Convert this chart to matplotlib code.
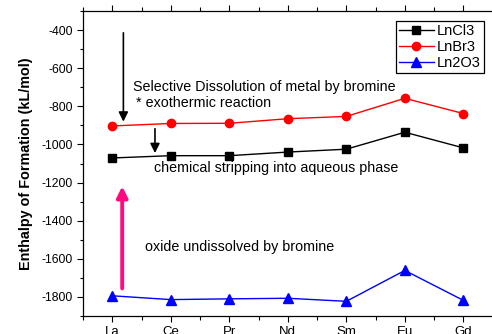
import matplotlib
matplotlib.use('Agg')
from matplotlib import pyplot as plt
from matplotlib.ticker import MultipleLocator
import numpy as np

plt.rcParams['font.family'] = ['Liberation Sans', 'DejaVu Sans']
plt.rcParams['axes.unicode_minus'] = False

elements = ['La', 'Ce', 'Pr', 'Nd', 'Sm', 'Eu', 'Gd']
lncl3 = [-1071, -1059, -1059, -1040, -1025, -936, -1018]
lnbr3 = [-903, -890, -889, -865, -853, -758, -838]
ln2o3 = [-1794, -1814, -1810, -1807, -1823, -1661, -1818]

x = np.arange(1, len(elements) + 1)

fig = plt.figure(figsize=(4.92, 3.34), dpi=100)
ax = fig.add_axes([83/492, 18/334, 409.6/492, 305/334])

ax.plot(x, lncl3, color='black', linewidth=1, marker='s', markersize=5.5, label='LnCl3')
ax.plot(x, lnbr3, color='red', linewidth=1, marker='o', markersize=6, label='LnBr3')
ax.plot(x, ln2o3, color='blue', linewidth=1, marker='^', markersize=6.5, label='Ln2O3')

ax.set_xlim(0.5, 7.5)
ax.set_ylim(-1900, -300)
ax.set_xticks(x)
ax.set_xticklabels(elements, fontsize=9.5)
ax.xaxis.set_minor_locator(MultipleLocator(0.5))
ax.yaxis.set_major_locator(MultipleLocator(200))
ax.yaxis.set_minor_locator(MultipleLocator(100))
ax.set_yticks(np.arange(-1800, -300, 200))
ax.tick_params(axis='y', which='major', length=4, width=0.8, labelsize=8.8, direction='out')
ax.tick_params(axis='y', which='minor', length=2.5, width=0.8, direction='out')
ax.tick_params(axis='x', which='major', length=4, width=0.8, direction='out', top=True)
ax.tick_params(axis='x', which='minor', length=3, width=0.8, direction='out', top=True)
ax.spines['right'].set_visible(False)
for s in ['left', 'bottom', 'top']:
    ax.spines[s].set_linewidth(0.9)

ax.set_ylabel('Enthalpy of Formation (kL/mol)', fontsize=10.4, fontweight='bold', labelpad=6)

# arrows
ax.annotate('', xy=(1.19, -895), xytext=(1.19, -400),
            arrowprops=dict(arrowstyle='-|>', color='black', lw=1.2, mutation_scale=14))
ax.annotate('', xy=(1.73, -1060), xytext=(1.73, -903),
            arrowprops=dict(arrowstyle='-|>', color='black', lw=1.2, mutation_scale=14))
ax.annotate('', xy=(1.17, -1205), xytext=(1.17, -1770),
            arrowprops=dict(arrowstyle='-|>', color='#ff0a80', lw=2.8, mutation_scale=16))

ax.text(1.35, -697, 'Selective Dissolution of metal by bromine', fontsize=10.3, va='center')
ax.text(1.40, -785, '* exothermic reaction', fontsize=10.3, va='center')
ax.text(1.71, -1125, 'chemical stripping into aqueous phase', fontsize=10.3, va='center')
ax.text(1.56, -1536, 'oxide undissolved by bromine', fontsize=10.3, va='center')

leg = ax.legend(loc='upper right', bbox_to_anchor=((483.5 - 83) / 409.6, (316 - 21.5) / 305),
                bbox_transform=ax.transAxes,
                fontsize=10.5, frameon=True, fancybox=False, edgecolor='black', framealpha=1,
                handlelength=2.4, handletextpad=0.2, borderpad=0.2, labelspacing=0.12, borderaxespad=0)
leg.get_frame().set_linewidth(0.9)

plt.savefig('out.png', dpi=100)
